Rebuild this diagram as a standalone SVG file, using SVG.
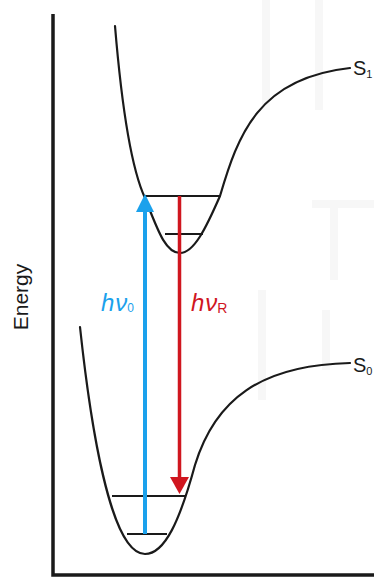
<svg xmlns="http://www.w3.org/2000/svg" width="374" height="583" viewBox="0 0 374 583">
<style>
.curve{fill:none;stroke:#1a1a1a;stroke-width:2.2;stroke-linecap:round}
.lvl{stroke:#1a1a1a;stroke-width:2.2}
.axis{fill:none;stroke:#1a1a1a;stroke-width:3.5}
.lbl{font-family:"Liberation Sans",Arial,sans-serif;fill:#1a1a1a}
.wm{fill:#f7f7f7}
</style>
<rect width="374" height="583" fill="#ffffff"/>
<g id="watermark">
<rect class="wm" x="262" y="0" width="8" height="110"/>
<rect class="wm" x="315" y="0" width="8" height="110"/>
<rect class="wm" x="312" y="200" width="62" height="8"/>
<rect class="wm" x="330" y="200" width="8" height="80"/>
<rect class="wm" x="258" y="290" width="8" height="110"/>
<rect class="wm" x="322" y="310" width="8" height="60"/>
</g>
<g id="axes">
<path class="axis" d="M53,14 V575 H374"/>
</g>
<g id="energy-label">
<text class="lbl" font-size="21" text-anchor="middle" transform="translate(28,297) rotate(-90)">Energy</text>
</g>
<g id="S1">
<path class="curve" d="M115,26 C122,110 132,170 145,198 C157,228 165,253 180,253 C194,253 206,228 220,196 C238,135 258,78 350,68"/>
<line class="lvl" x1="145" y1="196" x2="220" y2="196"/>
<line class="lvl" x1="165" y1="234" x2="203" y2="234"/>
<text class="lbl" x="353" y="75" font-size="20">S<tspan font-size="11" dy="3">1</tspan></text>
</g>
<g id="S0">
<path class="curve" d="M80,327 C90,420 110,554 145,554 C165,554 180,520 195,465 C215,400 260,365 350,363"/>
<line class="lvl" x1="112" y1="496" x2="186" y2="496"/>
<line class="lvl" x1="127" y1="534" x2="167" y2="534"/>
<text class="lbl" x="353" y="372" font-size="20">S<tspan font-size="11" dy="3">0</tspan></text>
</g>
<g id="connectors">
<line x1="145" y1="534" x2="145" y2="210" stroke="#1ba1ec" stroke-width="4"/>
<polygon points="145,194 136,212 154,212" fill="#1ba1ec"/>
<line x1="179.5" y1="196" x2="179.5" y2="480" stroke="#d0161f" stroke-width="3.5"/>
<polygon points="179.5,494 170,477 189,477" fill="#d0161f"/>
</g>
<g id="labels">
<text x="101" y="311" font-family="Liberation Sans,Arial,sans-serif" font-size="24" fill="#1ba1ec"><tspan font-style="italic">h</tspan><tspan font-style="italic" dx="1">ν</tspan><tspan font-size="12" dy="1">0</tspan></text>
<text x="191" y="311" font-family="Liberation Sans,Arial,sans-serif" font-size="24" fill="#d0161f"><tspan font-style="italic">h</tspan><tspan font-style="italic" dx="1">ν</tspan><tspan font-size="14" dy="2">R</tspan></text>
</g>
</svg>
